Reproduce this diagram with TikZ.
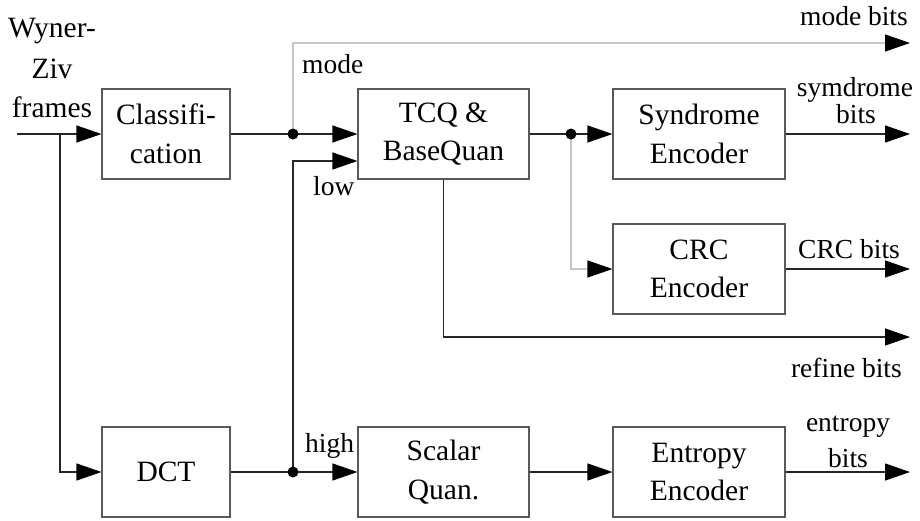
\documentclass[tikz,border=0pt]{standalone}
\usepackage{fontspec}
\setmainfont{Liberation Serif}
\usetikzlibrary{arrows.meta}
\begin{document}
\begin{tikzpicture}[x=1pt,y=-1pt,
  block/.style={draw=black!65, line width=1.1pt, minimum width=128pt, minimum height=90pt,
    inner sep=0pt, align=center, font=\fontsize{29.5}{38.5}\selectfont},
  wire/.style={line width=1.2pt, draw=black!85},
  faint/.style={line width=1.2pt, draw=black!22},
  arr/.style={-{Triangle[length=25pt,width=17pt,color=black]}},
  lbl/.style={font=\fontsize{27.5}{32}\selectfont, inner sep=0pt},
  big/.style={font=\fontsize{29.5}{37}\selectfont, inner sep=0pt},
  dot/.style={circle, fill=black, inner sep=0pt, minimum size=11pt}]
\useasboundingbox (0,0) rectangle (920,520);

% processing blocks
\node[block] (cls) at (166,134) {Classifi-\\cation};
\node[block, minimum width=171pt] (tcq) at (443.5,134) {TCQ \&\\BaseQuan};
\node[block, minimum width=172pt] (syn) at (699,134) {Syndrome\\Encoder};
\node[block, minimum width=172pt] (crc) at (699,269) {CRC\\Encoder};
\node[block] (dct) at (166,472) {DCT};
\node[block, minimum width=171pt] (sq) at (443.5,472) {Scalar\\Quan.};
\node[block, minimum width=172pt] (ent) at (699,472) {Entropy\\Encoder};

% branch points and free ends
\coordinate (in) at (17,134);
\coordinate (split) at (60,134);
\coordinate (modeout) at (910,43);
\coordinate (synout) at (910,134);
\coordinate (crcout) at (910,269);
\coordinate (refout) at (910,337);
\coordinate (entout) at (910,472);
\coordinate (j1) at (293,134);
\coordinate (j2) at (571,134);
\coordinate (j3) at (293,472);

% connectors
\draw[wire,arr] (in) -- (cls);
\draw[wire,arr] (split) |- (dct);
\draw[wire] (cls) -- (j1);
\draw[wire,arr] (j1) -- (tcq);
\draw[faint,arr] (j1) |- (modeout);
\draw[wire] (tcq) -- (j2);
\draw[wire,arr] (j2) -- (syn);
\draw[faint,arr] (j2) |- (crc);
\draw[wire,arr] (syn) -- (synout);
\draw[wire,arr] (crc) -- (crcout);
\draw[wire,arr] (tcq.south) |- (refout);
\draw[wire] (dct) -- (j3);
\draw[wire,arr] (j3) -- (sq);
\draw[wire,arr] (j3) |- ([yshift=-27pt]tcq.west);
\draw[wire,arr] (sq) -- (ent);
\draw[wire,arr] (ent) -- (entout);

\node[dot] (d1) at (j1) {};
\node[dot] (d2) at (j2) {};
\node[dot] (d3) at (j3) {};

% labels
\node[big, anchor=base] (wz1) at (52,37) {Wyner-};
\node[big, anchor=base] (wz2) at (52,78) {Ziv};
\node[big, anchor=base] (wz3) at (52,117) {frames};
\node[lbl, anchor=base west] (lmode) at (302,73) {mode};
\node[lbl, anchor=base west] (llow) at (313,195) {low};
\node[lbl, anchor=base west] (lhigh) at (305,452) {high};
\node[lbl, anchor=base east] (lmb) at (908,25) {mode bits};
\node[lbl, anchor=base] (lsy1) at (855,96) {symdrome};
\node[lbl, anchor=base] (lsy2) at (856,123) {bits};
\node[lbl, anchor=base west] (lcrc) at (798,258) {CRC bits};
\node[lbl, anchor=base east] (lref) at (902,377) {refine bits};
\node[lbl, anchor=base] (len1) at (848,431) {entropy};
\node[lbl, anchor=base] (len2) at (848,467) {bits};
\end{tikzpicture}
\end{document}
